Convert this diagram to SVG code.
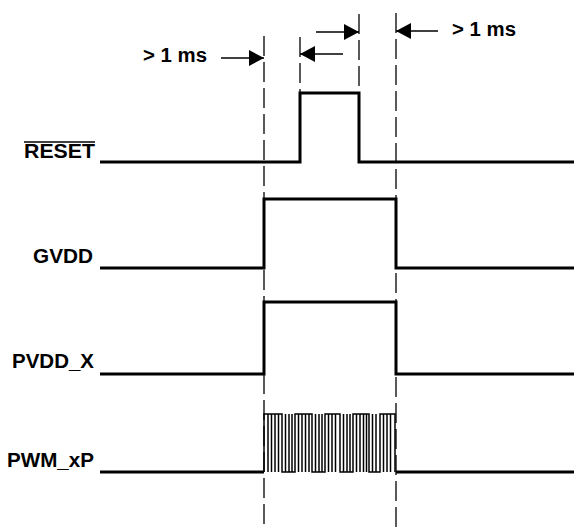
<svg xmlns="http://www.w3.org/2000/svg" width="574" height="529" viewBox="0 0 574 529">
<style>
.lbl{font-family:"Liberation Sans",Arial,sans-serif;font-weight:bold;font-size:19.5px;fill:#000}
.sig{fill:none;stroke:#000;stroke-width:3;stroke-linejoin:miter}
.dash{stroke:#000;stroke-width:1.3;stroke-dasharray:20 6;fill:none}
.arr{stroke:#000;stroke-width:1.3;fill:none;marker-end:url(#ah)}
.pwm{fill:none;stroke:#000;stroke-width:1.5}
</style>
<defs>
<marker id="ah" markerUnits="userSpaceOnUse" markerWidth="15" markerHeight="16" viewBox="0 0 15 16" refX="15" refY="8" orient="auto">
<path d="M0,0 L15,8 L0,16 Z" fill="#000"/>
</marker>
</defs>
<g id="guides">
<line class="dash" x1="264" y1="36" x2="264" y2="529"/>
<line class="dash" x1="300" y1="37" x2="300" y2="93"/>
<line class="dash" x1="359" y1="14" x2="359" y2="93"/>
<line class="dash" x1="396" y1="13" x2="396" y2="529"/>
</g>
<g id="connectors">
<line class="arr" x1="221" y1="58" x2="264" y2="58"/>
<line class="arr" x1="343" y1="54" x2="300" y2="54"/>
<line class="arr" x1="316" y1="32" x2="359" y2="32"/>
<line class="arr" x1="438" y1="31" x2="396" y2="31"/>
</g>
<g id="time-labels">
<text class="lbl" x="143" y="62" textLength="64" lengthAdjust="spacingAndGlyphs">&gt; 1 ms</text>
<text class="lbl" x="452" y="36" textLength="64" lengthAdjust="spacingAndGlyphs">&gt; 1 ms</text>
</g>
<g id="reset">
<text class="lbl" x="24" y="158" textLength="71" lengthAdjust="spacingAndGlyphs">RESET</text>
<line x1="24" y1="142" x2="95" y2="142" stroke="#000" stroke-width="1.5"/>
<path class="sig" d="M100,162 H300 V93 H359 V162 H574"/>
</g>
<g id="gvdd">
<text class="lbl" x="33" y="263" textLength="60" lengthAdjust="spacingAndGlyphs">GVDD</text>
<path class="sig" d="M100,268 H264 V199 H396 V268 H574"/>
</g>
<g id="pvdd_x">
<text class="lbl" x="12" y="368" textLength="82" lengthAdjust="spacingAndGlyphs">PVDD_X</text>
<path class="sig" d="M100,374 H264 V302 H396 V374 H574"/>
</g>
<g id="pwm_xp">
<text class="lbl" x="7" y="467" textLength="87" lengthAdjust="spacingAndGlyphs">PWM_xP</text>
<path class="sig" d="M100,472 H264"/>
<path class="sig" d="M396,472 H574"/>
<path class="pwm" d="M264,472 V414 H282 V472 H295 V414 H312 V472 H325 V414 H340 V472 H353 V414 H369 V472 H380 V414 H395 V472"/>
<path class="pwm" d="M268,414V472M271.5,414V472M275,414V472M278.5,414V472M285.5,414V472M289,414V472M292,414V472M298.5,414V472M302,414V472M305.5,414V472M309,414V472M315.5,414V472M319,414V472M322,414V472M328.5,414V472M332,414V472M335.5,414V472M343.5,414V472M347,414V472M350,414V472M356.5,414V472M360,414V472M363.5,414V472M366.5,414V472M372.5,414V472M376,414V472M383.5,414V472M387,414V472M390.5,414V472"/>
</g>
</svg>
